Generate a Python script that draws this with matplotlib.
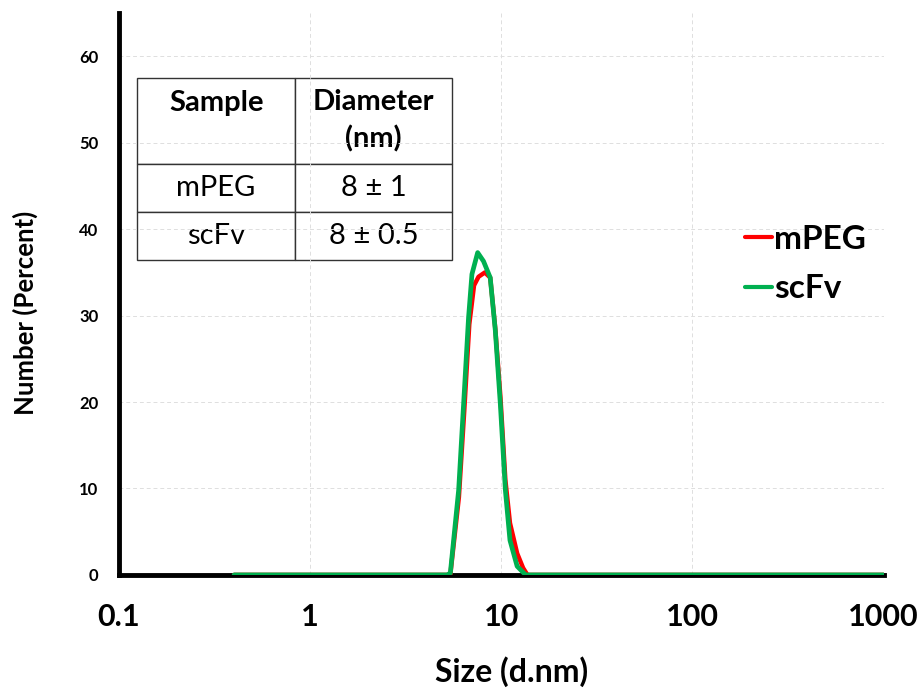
"""DLS number distribution of mPEG and scFv particles."""

import matplotlib

matplotlib.use("Agg")
import matplotlib.pyplot as plt

plt.rcParams["font.family"] = ["Lato", "DejaVu Sans"]

# size (d.nm) and number (%)
mpeg_size = [0.4, 5.2, 5.41, 6.0, 6.4, 6.8, 7.2, 7.6, 8.2, 8.75, 9.3, 9.9,
             10.5, 11.1, 12.1, 13.0, 13.7, 1000]
mpeg_number = [0, 0, 0, 9, 19, 29, 33.5, 34.5, 35, 34.4, 28.5, 20.5,
               11, 6, 2.5, 0.8, 0, 0]

scfv_size = [0.4, 5.2, 5.41, 5.98, 6.35, 6.74, 7.02, 7.52, 8.07, 8.75, 9.3,
             9.88, 10.5, 11.1, 12.1, 13.4, 1000]
scfv_number = [0, 0, 0.2, 9.8, 19.8, 29.8, 34.8, 37.3, 36.3, 34.4, 28.3,
               19.8, 9.8, 4, 1, 0, 0]

table_header = ["Sample\n ", "Diameter\n(nm)"]
table_rows = [["mPEG", "8 ± 1"], ["scFv", "8 ± 0.5"]]

x_ticks = [0.1, 1, 10, 100, 1000]
x_tick_labels = ["0.1", "1", "10", "100", "1000"]
y_ticks = [0, 10, 20, 30, 40, 50, 60]

RED = "#ff0000"
GREEN = "#00b050"


def main() -> None:
    figure = plt.figure(figsize=(9.19, 6.96), dpi=100)
    axes = figure.add_axes([0.1295, 0.174, 0.832, 0.807])

    axes.plot(mpeg_size, mpeg_number, color=RED, linewidth=3.2, label="mPEG",
              solid_capstyle="round", zorder=3)
    axes.plot(scfv_size, scfv_number, color=GREEN, linewidth=3.4,
              label="scFv", solid_capstyle="round", zorder=4)

    axes.set_xscale("log")
    axes.set_xlim(0.1, 1000)
    axes.set_ylim(0, 65)
    axes.set_xticks(x_ticks)
    axes.set_xticklabels(x_tick_labels)
    axes.minorticks_off()
    axes.set_yticks(y_ticks)

    axes.grid(True, color="#dedede", linestyle=(0, (4, 3)), linewidth=0.7)
    axes.set_axisbelow(True)

    for side in ("top", "right"):
        axes.spines[side].set_visible(False)
    for side in ("left", "bottom"):
        axes.spines[side].set_linewidth(3.5)
        axes.spines[side].set_color("black")

    axes.tick_params(axis="both", length=0)
    axes.tick_params(axis="x", labelsize=22, pad=20)
    axes.tick_params(axis="y", labelsize=12, pad=15)
    for label in axes.get_xticklabels() + axes.get_yticklabels():
        label.set_fontweight("bold")

    axes.set_xlabel("Size (d.nm)", fontsize=23, fontweight="bold")
    axes.xaxis.label.set_va("center")
    axes.xaxis.set_label_coords(0.514, -0.173)
    axes.set_ylabel("Number (Percent)", fontsize=18.5, fontweight="bold")
    axes.yaxis.label.set_va("center")
    axes.yaxis.set_label_coords(-0.123, 0.466)

    legend = axes.legend(
        loc="upper left",
        bbox_to_anchor=(0.811, 0.677),
        bbox_transform=figure.transFigure,
        frameon=False,
        handlelength=0.8,
        handletextpad=0.05,
        labelspacing=0.62,
        borderaxespad=0,
        borderpad=0,
        prop={"size": 24, "weight": "bold"},
    )
    for handle in legend.get_lines():
        handle.set_linewidth(3)

    table = axes.table(
        cellText=[table_header] + table_rows,
        cellLoc="center",
        bbox=[0.024, 0.5605, 0.412, 0.324],
    )
    table.auto_set_font_size(False)
    heights = [0.47, 0.265, 0.265]
    for (row, column), cell in table.get_celld().items():
        cell.set_linewidth(1.0)
        cell.set_edgecolor("#333333")
        cell.set_height(heights[row])
        cell.set_width(0.5)
        text = cell.get_text()
        text.set_fontsize(21)
        if row == 0:
            text.set_fontweight("bold")
            text.set_linespacing(1.45)

    figure.savefig("out.png", dpi=100)


if __name__ == "__main__":
    main()
